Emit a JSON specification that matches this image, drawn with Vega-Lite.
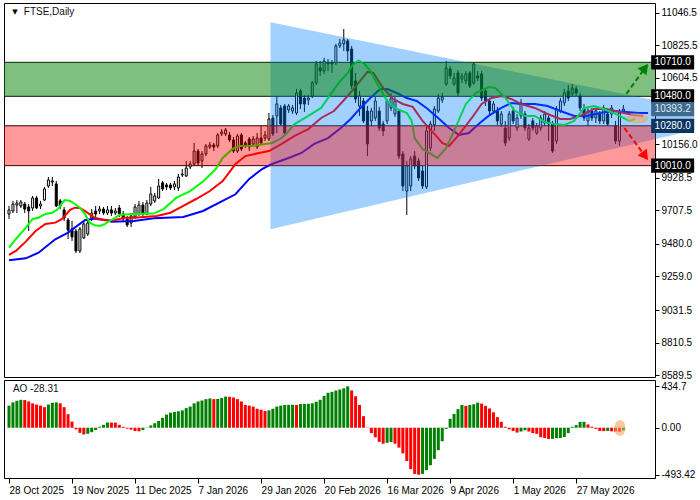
{
 "$schema": "https://vega.github.io/schema/vega-lite/v6.json",
 "padding": {"left": 3, "top": 2, "right": 0, "bottom": 0},
 "autosize": {"type": "pad"},
 "spacing": 3,
 "bounds": "flush",
 "background": "white",
 "config": {
  "view": {"stroke": "black", "strokeWidth": 1},
  "axis": {"labelFont": "Liberation Sans", "labelFontSize": 10, "labelColor": "black", "tickColor": "black", "domain": false, "grid": false, "title": null, "labelOverlap": false},
  "text": {"font": "Liberation Sans"}
 },
 "datasets": {
  "candles": [
   {"n":0,"o":9682,"h":9737,"l":9649,"c":9710,"a":232,"u":"up"},
   {"n":1,"o":9703,"h":9771,"l":9689,"c":9750,"a":266,"u":"up"},
   {"n":2,"o":9743,"h":9777,"l":9689,"c":9757,"a":283,"u":"up"},
   {"n":3,"o":9737,"h":9777,"l":9723,"c":9764,"a":293,"u":"up"},
   {"n":4,"o":9750,"h":9764,"l":9689,"c":9716,"a":290,"u":"dn"},
   {"n":5,"o":9730,"h":9750,"l":9567,"c":9703,"a":276,"u":"dn"},
   {"n":6,"o":9723,"h":9805,"l":9703,"c":9791,"a":256,"u":"dn"},
   {"n":7,"o":9791,"h":9805,"l":9716,"c":9723,"a":243,"u":"dn"},
   {"n":8,"o":9737,"h":9771,"l":9716,"c":9750,"a":232,"u":"dn"},
   {"n":9,"o":9777,"h":9866,"l":9771,"c":9852,"a":216,"u":"dn"},
   {"n":10,"o":9872,"h":9933,"l":9859,"c":9913,"a":243,"u":"up"},
   {"n":11,"o":9899,"h":9933,"l":9872,"c":9906,"a":262,"u":"up"},
   {"n":12,"o":9886,"h":9906,"l":9730,"c":9737,"a":266,"u":"up"},
   {"n":13,"o":9771,"h":9784,"l":9716,"c":9737,"a":256,"u":"dn"},
   {"n":14,"o":9710,"h":9730,"l":9635,"c":9655,"a":216,"u":"dn"},
   {"n":15,"o":9642,"h":9655,"l":9513,"c":9574,"a":142,"u":"dn"},
   {"n":16,"o":9581,"h":9635,"l":9500,"c":9527,"a":64,"u":"dn"},
   {"n":17,"o":9567,"h":9581,"l":9418,"c":9432,"a":-17,"u":"dn"},
   {"n":18,"o":9432,"h":9594,"l":9418,"c":9581,"a":-54,"u":"dn"},
   {"n":19,"o":9520,"h":9635,"l":9513,"c":9615,"a":-71,"u":"dn"},
   {"n":20,"o":9547,"h":9649,"l":9533,"c":9621,"a":-64,"u":"up"},
   {"n":21,"o":9655,"h":9716,"l":9635,"c":9689,"a":-47,"u":"up"},
   {"n":22,"o":9703,"h":9737,"l":9662,"c":9682,"a":-24,"u":"up"},
   {"n":23,"o":9703,"h":9737,"l":9682,"c":9716,"a":10,"u":"up"},
   {"n":24,"o":9716,"h":9730,"l":9676,"c":9689,"a":30,"u":"up"},
   {"n":25,"o":9689,"h":9737,"l":9676,"c":9710,"a":55,"u":"up"},
   {"n":26,"o":9710,"h":9737,"l":9669,"c":9689,"a":54,"u":"dn"},
   {"n":27,"o":9689,"h":9723,"l":9676,"c":9703,"a":53,"u":"dn"},
   {"n":28,"o":9723,"h":9743,"l":9662,"c":9682,"a":30,"u":"dn"},
   {"n":29,"o":9682,"h":9703,"l":9635,"c":9649,"a":10,"u":"dn"},
   {"n":30,"o":9649,"h":9669,"l":9594,"c":9608,"a":-10,"u":"dn"},
   {"n":31,"o":9621,"h":9689,"l":9594,"c":9669,"a":-20,"u":"dn"},
   {"n":32,"o":9662,"h":9750,"l":9649,"c":9730,"a":-35,"u":"dn"},
   {"n":33,"o":9682,"h":9771,"l":9669,"c":9743,"a":-37,"u":"dn"},
   {"n":34,"o":9743,"h":9764,"l":9669,"c":9682,"a":-24,"u":"up"},
   {"n":35,"o":9682,"h":9777,"l":9676,"c":9757,"a":-3,"u":"up"},
   {"n":36,"o":9750,"h":9866,"l":9737,"c":9818,"a":24,"u":"up"},
   {"n":37,"o":9771,"h":9825,"l":9757,"c":9805,"a":47,"u":"up"},
   {"n":38,"o":9791,"h":9920,"l":9784,"c":9872,"a":71,"u":"up"},
   {"n":39,"o":9893,"h":9906,"l":9838,"c":9852,"a":104,"u":"up"},
   {"n":40,"o":9879,"h":9893,"l":9845,"c":9866,"a":138,"u":"up"},
   {"n":41,"o":9879,"h":9893,"l":9845,"c":9859,"a":158,"u":"up"},
   {"n":42,"o":9866,"h":9906,"l":9845,"c":9886,"a":165,"u":"up"},
   {"n":43,"o":9859,"h":9953,"l":9838,"c":9933,"a":172,"u":"up"},
   {"n":44,"o":9947,"h":9987,"l":9933,"c":9953,"a":182,"u":"up"},
   {"n":45,"o":9940,"h":10042,"l":9933,"c":9994,"a":206,"u":"up"},
   {"n":46,"o":10001,"h":10042,"l":9987,"c":10021,"a":222,"u":"up"},
   {"n":47,"o":10021,"h":10164,"l":10008,"c":10109,"a":256,"u":"up"},
   {"n":48,"o":10109,"h":10123,"l":10008,"c":10028,"a":276,"u":"up"},
   {"n":49,"o":10042,"h":10109,"l":9994,"c":10089,"a":286,"u":"up"},
   {"n":50,"o":10089,"h":10157,"l":10075,"c":10143,"a":300,"u":"up"},
   {"n":51,"o":10136,"h":10170,"l":10123,"c":10150,"a":307,"u":"up"},
   {"n":52,"o":10150,"h":10164,"l":10109,"c":10136,"a":300,"u":"dn"},
   {"n":53,"o":10143,"h":10231,"l":10130,"c":10218,"a":302,"u":"up"},
   {"n":54,"o":10225,"h":10258,"l":10211,"c":10238,"a":313,"u":"up"},
   {"n":55,"o":10225,"h":10265,"l":10211,"c":10252,"a":327,"u":"up"},
   {"n":56,"o":10218,"h":10238,"l":10170,"c":10184,"a":324,"u":"dn"},
   {"n":57,"o":10184,"h":10204,"l":10096,"c":10109,"a":317,"u":"dn"},
   {"n":58,"o":10109,"h":10225,"l":10096,"c":10211,"a":300,"u":"dn"},
   {"n":59,"o":10218,"h":10231,"l":10109,"c":10123,"a":276,"u":"dn"},
   {"n":60,"o":10164,"h":10177,"l":10130,"c":10143,"a":239,"u":"dn"},
   {"n":61,"o":10191,"h":10204,"l":10109,"c":10136,"a":232,"u":"dn"},
   {"n":62,"o":10157,"h":10211,"l":10143,"c":10191,"a":222,"u":"dn"},
   {"n":63,"o":10136,"h":10231,"l":10123,"c":10197,"a":199,"u":"dn"},
   {"n":64,"o":10197,"h":10279,"l":10150,"c":10164,"a":189,"u":"dn"},
   {"n":65,"o":10197,"h":10245,"l":10177,"c":10218,"a":175,"u":"dn"},
   {"n":66,"o":10191,"h":10367,"l":10177,"c":10326,"a":182,"u":"up"},
   {"n":67,"o":10333,"h":10353,"l":10211,"c":10225,"a":199,"u":"up"},
   {"n":68,"o":10347,"h":10482,"l":10231,"c":10428,"a":222,"u":"up"},
   {"n":69,"o":10401,"h":10421,"l":10279,"c":10292,"a":232,"u":"up"},
   {"n":70,"o":10414,"h":10428,"l":10218,"c":10231,"a":239,"u":"up"},
   {"n":71,"o":10387,"h":10428,"l":10367,"c":10414,"a":240,"u":"up"},
   {"n":72,"o":10380,"h":10421,"l":10360,"c":10401,"a":241,"u":"up"},
   {"n":73,"o":10367,"h":10530,"l":10353,"c":10502,"a":239,"u":"dn"},
   {"n":74,"o":10516,"h":10530,"l":10394,"c":10428,"a":249,"u":"up"},
   {"n":75,"o":10468,"h":10489,"l":10374,"c":10428,"a":250,"u":"up"},
   {"n":76,"o":10455,"h":10489,"l":10421,"c":10468,"a":251,"u":"up"},
   {"n":77,"o":10482,"h":10584,"l":10468,"c":10570,"a":256,"u":"up"},
   {"n":78,"o":10570,"h":10719,"l":10557,"c":10699,"a":273,"u":"up"},
   {"n":79,"o":10672,"h":10719,"l":10618,"c":10651,"a":293,"u":"up"},
   {"n":80,"o":10651,"h":10740,"l":10631,"c":10719,"a":334,"u":"up"},
   {"n":81,"o":10699,"h":10733,"l":10651,"c":10706,"a":367,"u":"up"},
   {"n":82,"o":10706,"h":10726,"l":10638,"c":10699,"a":377,"u":"up"},
   {"n":83,"o":10706,"h":10835,"l":10692,"c":10821,"a":391,"u":"up"},
   {"n":84,"o":10821,"h":10868,"l":10807,"c":10841,"a":401,"u":"up"},
   {"n":85,"o":10835,"h":10936,"l":10787,"c":10862,"a":414,"u":"up"},
   {"n":86,"o":10855,"h":10868,"l":10719,"c":10787,"a":434.7,"u":"up"},
   {"n":87,"o":10800,"h":10821,"l":10530,"c":10550,"a":391,"u":"dn"},
   {"n":88,"o":10584,"h":10638,"l":10435,"c":10462,"a":330,"u":"dn"},
   {"n":89,"o":10414,"h":10516,"l":10347,"c":10482,"a":239,"u":"dn"},
   {"n":90,"o":10448,"h":10468,"l":10299,"c":10313,"a":121,"u":"dn"},
   {"n":91,"o":10380,"h":10414,"l":10075,"c":10157,"a":3,"u":"dn"},
   {"n":92,"o":10313,"h":10401,"l":10279,"c":10380,"a":-57,"u":"dn"},
   {"n":93,"o":10333,"h":10475,"l":10313,"c":10448,"a":-101,"u":"dn"},
   {"n":94,"o":10380,"h":10408,"l":10245,"c":10265,"a":-148,"u":"dn"},
   {"n":95,"o":10292,"h":10313,"l":10211,"c":10245,"a":-168,"u":"dn"},
   {"n":96,"o":10313,"h":10462,"l":10292,"c":10448,"a":-158,"u":"up"},
   {"n":97,"o":10401,"h":10502,"l":10380,"c":10468,"a":-150,"u":"up"},
   {"n":98,"o":10360,"h":10475,"l":10340,"c":10448,"a":-168,"u":"dn"},
   {"n":99,"o":10380,"h":10394,"l":10055,"c":10075,"a":-209,"u":"dn"},
   {"n":100,"o":10089,"h":10109,"l":9838,"c":9872,"a":-270,"u":"dn"},
   {"n":101,"o":9838,"h":10042,"l":9676,"c":10008,"a":-350,"u":"dn"},
   {"n":102,"o":9872,"h":10075,"l":9838,"c":10055,"a":-435,"u":"dn"},
   {"n":103,"o":10075,"h":10109,"l":9987,"c":10008,"a":-485,"u":"dn"},
   {"n":104,"o":10042,"h":10062,"l":9906,"c":9926,"a":-493.42,"u":"dn"},
   {"n":105,"o":9974,"h":10008,"l":9852,"c":9872,"a":-485,"u":"up"},
   {"n":106,"o":9866,"h":10272,"l":9852,"c":10245,"a":-445,"u":"up"},
   {"n":107,"o":10130,"h":10313,"l":10109,"c":10292,"a":-394,"u":"up"},
   {"n":108,"o":10286,"h":10414,"l":10245,"c":10394,"a":-327,"u":"up"},
   {"n":109,"o":10380,"h":10496,"l":10367,"c":10468,"a":-236,"u":"up"},
   {"n":110,"o":10455,"h":10502,"l":10435,"c":10475,"a":-142,"u":"up"},
   {"n":111,"o":10563,"h":10719,"l":10550,"c":10672,"a":-13,"u":"up"},
   {"n":112,"o":10665,"h":10685,"l":10597,"c":10618,"a":94,"u":"up"},
   {"n":113,"o":10563,"h":10638,"l":10550,"c":10604,"a":145,"u":"up"},
   {"n":114,"o":10638,"h":10658,"l":10482,"c":10502,"a":195,"u":"up"},
   {"n":115,"o":10597,"h":10638,"l":10570,"c":10618,"a":239,"u":"up"},
   {"n":116,"o":10584,"h":10651,"l":10563,"c":10631,"a":229,"u":"dn"},
   {"n":117,"o":10638,"h":10651,"l":10536,"c":10550,"a":239,"u":"up"},
   {"n":118,"o":10570,"h":10706,"l":10557,"c":10699,"a":246,"u":"up"},
   {"n":119,"o":10618,"h":10651,"l":10584,"c":10604,"a":263,"u":"up"},
   {"n":120,"o":10631,"h":10651,"l":10448,"c":10468,"a":253,"u":"dn"},
   {"n":121,"o":10516,"h":10530,"l":10414,"c":10448,"a":229,"u":"dn"},
   {"n":122,"o":10448,"h":10468,"l":10360,"c":10380,"a":202,"u":"dn"},
   {"n":123,"o":10380,"h":10448,"l":10360,"c":10428,"a":162,"u":"dn"},
   {"n":124,"o":10380,"h":10408,"l":10286,"c":10313,"a":111,"u":"dn"},
   {"n":125,"o":10292,"h":10380,"l":10272,"c":10360,"a":61,"u":"dn"},
   {"n":126,"o":10265,"h":10313,"l":10143,"c":10164,"a":10,"u":"dn"},
   {"n":127,"o":10197,"h":10380,"l":10177,"c":10360,"a":-17,"u":"dn"},
   {"n":128,"o":10380,"h":10408,"l":10292,"c":10313,"a":-34,"u":"dn"},
   {"n":129,"o":10265,"h":10360,"l":10245,"c":10333,"a":-51,"u":"dn"},
   {"n":130,"o":10347,"h":10462,"l":10326,"c":10435,"a":-40,"u":"up"},
   {"n":131,"o":10360,"h":10380,"l":10245,"c":10265,"a":-27,"u":"up"},
   {"n":132,"o":10191,"h":10292,"l":10177,"c":10265,"a":-40,"u":"dn"},
   {"n":133,"o":10313,"h":10333,"l":10245,"c":10265,"a":-57,"u":"dn"},
   {"n":134,"o":10231,"h":10299,"l":10218,"c":10279,"a":-64,"u":"dn"},
   {"n":135,"o":10265,"h":10353,"l":10245,"c":10333,"a":-100,"u":"dn"},
   {"n":136,"o":10299,"h":10380,"l":10279,"c":10360,"a":-108,"u":"dn"},
   {"n":137,"o":10333,"h":10360,"l":10177,"c":10292,"a":-118,"u":"dn"},
   {"n":138,"o":10292,"h":10313,"l":10096,"c":10109,"a":-117,"u":"up"},
   {"n":139,"o":10177,"h":10414,"l":10157,"c":10394,"a":-110,"u":"up"},
   {"n":140,"o":10380,"h":10468,"l":10367,"c":10448,"a":-108,"u":"up"},
   {"n":141,"o":10435,"h":10530,"l":10414,"c":10502,"a":-98,"u":"up"},
   {"n":142,"o":10516,"h":10557,"l":10448,"c":10468,"a":-57,"u":"up"},
   {"n":143,"o":10496,"h":10563,"l":10482,"c":10536,"a":10,"u":"up"},
   {"n":144,"o":10530,"h":10550,"l":10482,"c":10502,"a":27,"u":"up"},
   {"n":145,"o":10482,"h":10502,"l":10380,"c":10401,"a":61,"u":"up"},
   {"n":146,"o":10401,"h":10428,"l":10313,"c":10333,"a":62,"u":"up"},
   {"n":147,"o":10313,"h":10401,"l":10279,"c":10380,"a":34,"u":"dn"},
   {"n":148,"o":10380,"h":10401,"l":10313,"c":10333,"a":10,"u":"dn"},
   {"n":149,"o":10333,"h":10401,"l":10299,"c":10380,"a":-13,"u":"dn"},
   {"n":150,"o":10360,"h":10380,"l":10292,"c":10313,"a":-34,"u":"dn"},
   {"n":151,"o":10313,"h":10421,"l":10292,"c":10401,"a":-36,"u":"dn"},
   {"n":152,"o":10360,"h":10394,"l":10279,"c":10292,"a":-34,"u":"up"},
   {"n":153,"o":10360,"h":10421,"l":10333,"c":10401,"a":-38,"u":"dn"},
   {"n":154,"o":10279,"h":10313,"l":10157,"c":10177,"a":-40,"u":"dn"},
   {"n":155,"o":10177,"h":10394,"l":10143,"c":10367,"a":-42,"u":"dn"},
   {"n":156,"o":10380,"h":10421,"l":10367,"c":10393.2,"a":-28.31,"u":"up"}
  ],
  "jaw": [
   {"n":0,"p":9369},{"n":4.25,"p":9382},{"n":7.5,"p":9420},{"n":11.75,"p":9511},{"n":15,"p":9556},{"n":19.25,"p":9640},{"n":21.75,"p":9651},{"n":25,"p":9640},{"n":26,"p":9630},{"n":31.75,"p":9635},{"n":36.75,"p":9653},{"n":44.25,"p":9662},{"n":49.25,"p":9703},{"n":54.25,"p":9771},{"n":57.5,"p":9816},{"n":61,"p":9920},{"n":64.25,"p":9987},{"n":66.75,"p":10021},{"n":71,"p":10062},{"n":74.25,"p":10096},{"n":77.5,"p":10157},{"n":81,"p":10197},{"n":84.25,"p":10265},{"n":86.75,"p":10326},{"n":89.25,"p":10401},{"n":91.75,"p":10468},{"n":94.25,"p":10529},{"n":96,"p":10529},{"n":98.5,"p":10502},{"n":101,"p":10468},{"n":103.5,"p":10448},{"n":106,"p":10401},{"n":109.25,"p":10326},{"n":111.75,"p":10265},{"n":114.25,"p":10218},{"n":116.75,"p":10231},{"n":119.25,"p":10292},{"n":121.75,"p":10347},{"n":125,"p":10401},{"n":127.5,"p":10435},{"n":130,"p":10428},{"n":133.5,"p":10428},{"n":136.75,"p":10414},{"n":140,"p":10380},{"n":143.5,"p":10347},{"n":146.75,"p":10347},{"n":150,"p":10367},{"n":153.5,"p":10380},{"n":156.75,"p":10374},{"n":160,"p":10367},{"n":162.25,"p":10367}
  ],
  "teeth": [
   {"n":0,"p":9405},{"n":1.75,"p":9432},{"n":4.25,"p":9495},{"n":6.75,"p":9567},{"n":9.25,"p":9615},{"n":11.75,"p":9624},{"n":13.5,"p":9649},{"n":15.5,"p":9710},{"n":16.75,"p":9725},{"n":18,"p":9723},{"n":19.25,"p":9703},{"n":21.75,"p":9657},{"n":24.25,"p":9640},{"n":26.75,"p":9640},{"n":29.25,"p":9657},{"n":31.75,"p":9657},{"n":37.5,"p":9669},{"n":41,"p":9691},{"n":44.25,"p":9737},{"n":47.5,"p":9784},{"n":51,"p":9838},{"n":54.25,"p":9906},{"n":57.5,"p":10021},{"n":60,"p":10075},{"n":63.5,"p":10096},{"n":66,"p":10109},{"n":69.25,"p":10157},{"n":72.5,"p":10211},{"n":76,"p":10258},{"n":79.25,"p":10333},{"n":82.5,"p":10380},{"n":86,"p":10482},{"n":88.5,"p":10563},{"n":91,"p":10645},{"n":92.5,"p":10638},{"n":95,"p":10536},{"n":97.5,"p":10462},{"n":100,"p":10428},{"n":102.5,"p":10408},{"n":105,"p":10313},{"n":108,"p":10225},{"n":110,"p":10164},{"n":111.75,"p":10143},{"n":113.5,"p":10197},{"n":115,"p":10245},{"n":117.5,"p":10333},{"n":120,"p":10428},{"n":122.5,"p":10469},{"n":125,"p":10482},{"n":127.5,"p":10462},{"n":130,"p":10428},{"n":133.5,"p":10401},{"n":136.75,"p":10360},{"n":140,"p":10326},{"n":142.5,"p":10326},{"n":145,"p":10347},{"n":148.5,"p":10394},{"n":151.75,"p":10394},{"n":155,"p":10374},{"n":158.5,"p":10353},{"n":161,"p":10347}
  ],
  "lips": [
   {"n":0,"p":9454},{"n":1.75,"p":9513},{"n":4.25,"p":9588},{"n":6,"p":9649},{"n":7.5,"p":9657},{"n":9.25,"p":9683},{"n":11,"p":9691},{"n":12.5,"p":9718},{"n":13.5,"p":9759},{"n":14.25,"p":9777},{"n":15.5,"p":9771},{"n":16.75,"p":9750},{"n":18,"p":9725},{"n":19.25,"p":9683},{"n":20.5,"p":9624},{"n":21.75,"p":9606},{"n":23,"p":9601},{"n":24.25,"p":9613},{"n":25.5,"p":9635},{"n":26.75,"p":9653},{"n":28,"p":9676},{"n":29.25,"p":9679},{"n":31.75,"p":9683},{"n":36.75,"p":9685},{"n":39.25,"p":9716},{"n":42.5,"p":9793},{"n":46,"p":9838},{"n":49.25,"p":9903},{"n":52.5,"p":9987},{"n":54.25,"p":10062},{"n":56.75,"p":10123},{"n":58.5,"p":10143},{"n":61.75,"p":10143},{"n":65,"p":10157},{"n":66.75,"p":10164},{"n":69.25,"p":10197},{"n":71,"p":10245},{"n":72.5,"p":10292},{"n":76,"p":10347},{"n":79.25,"p":10401},{"n":81.75,"p":10496},{"n":83.5,"p":10563},{"n":86,"p":10638},{"n":87.25,"p":10692},{"n":88.75,"p":10723},{"n":90.25,"p":10699},{"n":91.75,"p":10652},{"n":93.5,"p":10563},{"n":96,"p":10448},{"n":98.5,"p":10394},{"n":101,"p":10367},{"n":102.25,"p":10313},{"n":103,"p":10197},{"n":105,"p":10123},{"n":108.75,"p":10062},{"n":111,"p":10130},{"n":113,"p":10245},{"n":116,"p":10428},{"n":118.5,"p":10502},{"n":121.75,"p":10543},{"n":123.5,"p":10536},{"n":126,"p":10469},{"n":128.5,"p":10380},{"n":131,"p":10347},{"n":133.5,"p":10347},{"n":136,"p":10306},{"n":138.5,"p":10292},{"n":141,"p":10286},{"n":143.5,"p":10313},{"n":146,"p":10401},{"n":148.5,"p":10414},{"n":151,"p":10394},{"n":153.5,"p":10367},{"n":156,"p":10333},{"n":157.5,"p":10313},{"n":159,"p":10326}
  ],
  "levels": [{"p":10710},{"p":10480},{"p":10280},{"p":10010}],
  "zones": [{"z":"buy","hi":10710,"lo":10480},{"z":"sell","hi":10280,"lo":10010}],
  "tri": [{"n":66.4,"t":10981,"b":9579},{"n":174,"t":10399,"b":10252}],
  "arrows": [{"k":"up","n1":156.75,"p1":10496,"n2":161.5,"p2":10672},{"k":"dn","n1":156.25,"p1":10265,"n2":161.5,"p2":10075}],
  "tags": [{"p":10710,"t":"10710.0","k":"lvl"},{"p":10480,"t":"10480.0","k":"lvl"},{"p":10393.2,"t":"10393.2","k":"bid"},{"p":10280,"t":"10280.0","k":"lvl2"},{"p":10010,"t":"10010.0","k":"lvl"}]
 },
 "vconcat": [
  {
   "width": 651, "height": 374,
   "layer": [
    {"data": {"name": "levels"}, "mark": {"type": "rule", "color": "black", "strokeWidth": 1},
     "encoding": {"y": {"field": "p", "type": "quantitative", "scale": {"domain": [8578, 11112], "nice": false, "zero": false},
       "axis": {"orient": "right", "values": [8589.5, 8810.5, 9031.5, 9259.0, 9480.0, 9707.5, 9928.5, 10156.0, 10604.5, 10825.5, 11046.5], "tickCount": 30, "format": ".1f", "tickSize": 4, "labelPadding": 2}}}},
    {"data": {"name": "candles"}, "mark": {"type": "rule", "color": "black", "strokeWidth": 1},
     "encoding": {"x": {"field": "n", "type": "quantitative", "scale": {"domain": [0, 162.75], "nice": false, "zero": false}, "axis": null},
      "y": {"field": "l", "type": "quantitative"}, "y2": {"field": "h"}}},
    {"data": {"name": "candles"}, "mark": {"type": "bar", "size": 2, "stroke": "black", "strokeWidth": 1},
     "encoding": {"x": {"field": "n", "type": "quantitative"},
      "y": {"field": "o", "type": "quantitative"}, "y2": {"field": "c"},
      "fill": {"condition": {"test": "datum.c >= datum.o", "value": "white"}, "value": "black"}}},
    {"data": {"name": "jaw"}, "mark": {"type": "line", "color": "#0000ff", "strokeWidth": 2},
     "encoding": {"x": {"field": "n", "type": "quantitative"}, "y": {"field": "p", "type": "quantitative"}}},
    {"data": {"name": "teeth"}, "mark": {"type": "line", "color": "#ff0000", "strokeWidth": 2},
     "encoding": {"x": {"field": "n", "type": "quantitative"}, "y": {"field": "p", "type": "quantitative"}}},
    {"data": {"name": "lips"}, "mark": {"type": "line", "color": "#00ff00", "strokeWidth": 2},
     "encoding": {"x": {"field": "n", "type": "quantitative"}, "y": {"field": "p", "type": "quantitative"}}},
    {"data": {"name": "tri"}, "mark": {"type": "area", "color": "#0080ff", "opacity": 0.36},
     "encoding": {"x": {"field": "n", "type": "quantitative"}, "y": {"field": "t", "type": "quantitative"}, "y2": {"field": "b"}}},
    {"data": {"name": "zones"}, "mark": {"type": "rect"},
     "encoding": {"y": {"field": "hi", "type": "quantitative"}, "y2": {"field": "lo"},
      "fill": {"condition": {"test": "datum.z == 'buy'", "value": "#008000"}, "value": "#ff0000"},
      "fillOpacity": {"condition": {"test": "datum.z == 'buy'", "value": 0.5}, "value": 0.4}}},
    {"data": {"name": "arrows"}, "mark": {"type": "rule", "strokeWidth": 2, "strokeDash": [5, 3]},
     "encoding": {"x": {"field": "n1", "type": "quantitative"}, "x2": {"field": "n2"}, "y": {"field": "p1", "type": "quantitative"}, "y2": {"field": "p2"},
      "color": {"condition": {"test": "datum.k == 'up'", "value": "#008000"}, "value": "#ff0000"}}},
    {"data": {"name": "arrows"}, "transform": [{"filter": "datum.k == 'up'"}], "mark": {"type": "point", "shape": "triangle-up", "filled": true, "size": 130, "angle": 39, "color": "#008000", "opacity": 1},
     "encoding": {"x": {"field": "n2", "type": "quantitative"}, "y": {"field": "p2", "type": "quantitative"}}},
    {"data": {"name": "arrows"}, "transform": [{"filter": "datum.k == 'dn'"}], "mark": {"type": "point", "shape": "triangle-up", "filled": true, "size": 130, "angle": 143, "color": "#ff0000", "opacity": 1},
     "encoding": {"x": {"field": "n2", "type": "quantitative"}, "y": {"field": "p2", "type": "quantitative"}}},
    {"data": {"values": [{"n": 159.5, "p": 10330}]}, "mark": {"type": "point", "shape": "M -1 0 A 1 0.45 0 1 1 1 0 A 1 0.45 0 1 1 -1 0 Z", "size": 484, "filled": true, "color": "#f4a460", "opacity": 0.6},
     "encoding": {"x": {"field": "n", "type": "quantitative"}, "y": {"field": "p", "type": "quantitative"}}},
    {"data": {"name": "tags"}, "mark": {"type": "point", "shape": "M -1 -0.33 L 1 -0.33 L 1 0.33 L -1 0.33 Z", "size": 1849, "filled": true, "opacity": 1},
     "encoding": {"x": {"datum": 168.5, "type": "quantitative"}, "y": {"field": "p", "type": "quantitative"},
      "color": {"condition": [{"test": "datum.k == 'bid'", "value": "#3f6a90"}, {"test": "datum.k == 'lvl2'", "value": "#0b3560"}], "value": "#000000"}}},
    {"data": {"name": "tags"}, "mark": {"type": "text", "fontSize": 10, "align": "center", "baseline": "middle", "font": "Liberation Sans"},
     "encoding": {"x": {"datum": 168.5, "type": "quantitative"}, "y": {"field": "p", "type": "quantitative"}, "text": {"field": "t"},
      "color": {"condition": {"test": "datum.k == 'bid'", "value": "#dfe8f0"}, "value": "#ffffff"}}},
    {"data": {"values": [{"t": "FTSE,Daily"}]}, "mark": {"type": "text", "fontSize": 10, "align": "left", "baseline": "middle", "color": "#111111"},
     "encoding": {"x": {"datum": 3.75, "type": "quantitative"}, "y": {"datum": 11051, "type": "quantitative"}, "text": {"field": "t"}}},
    {"data": {"values": [{"t": "▼"}]}, "mark": {"type": "text", "fontSize": 7, "align": "center", "baseline": "middle", "color": "black", "font": "DejaVu Sans"},
     "encoding": {"x": {"datum": 1.5, "type": "quantitative"}, "y": {"datum": 11051, "type": "quantitative"}, "text": {"field": "t"}}}
   ]
  },
  {
   "width": 651, "height": 98,
   "layer": [
    {"data": {"name": "candles"}, "mark": {"type": "bar", "size": 3},
     "encoding": {
      "x": {"field": "n", "type": "quantitative", "scale": {"domain": [0, 162.75], "nice": false, "zero": false},
       "axis": {"orient": "bottom", "values": [0, 16, 32, 48, 64, 80, 96, 112, 128, 144], "tickCount": 30, "labelExpr": "['28 Oct 2025','19 Nov 2025','11 Dec 2025','7 Jan 2026','29 Jan 2026','20 Feb 2026','16 Mar 2026','9 Apr 2026','1 May 2026','27 May 2026'][round(datum.value/16)]", "labelAlign": "left", "tickSize": 5, "labelPadding": 2, "labelFlush": false}},
      "y": {"field": "a", "type": "quantitative", "scale": {"domain": [-528, 501], "nice": false, "zero": false},
       "axis": {"orient": "right", "values": [434.7, 0, -493.42], "tickCount": 10, "labelExpr": "datum.value == 0 ? '0.00' : (datum.value > 0 ? '434.7' : '-493.42')", "tickSize": 4, "labelPadding": 2}},
      "y2": {"datum": 0},
      "color": {"field": "u", "type": "nominal", "scale": {"domain": ["up", "dn"], "range": ["#008000", "#ff0000"]}, "legend": null}}},
    {"data": {"values": [{"n": 155.1, "v": -3}]}, "mark": {"type": "point", "shape": "M -0.69 0 A 0.69 1 0 1 1 0.69 0 A 0.69 1 0 1 1 -0.69 0 Z", "size": 256, "filled": true, "color": "#f4a460", "opacity": 0.6},
     "encoding": {"x": {"field": "n", "type": "quantitative"}, "y": {"field": "v", "type": "quantitative"}}},
    {"data": {"values": [{"t": "AO -28.31"}]}, "mark": {"type": "text", "fontSize": 10, "align": "left", "baseline": "middle", "color": "#111111"},
     "encoding": {"x": {"datum": 1, "type": "quantitative"}, "y": {"datum": 406, "type": "quantitative"}, "text": {"field": "t"}}}
   ]
  }
 ]
}
